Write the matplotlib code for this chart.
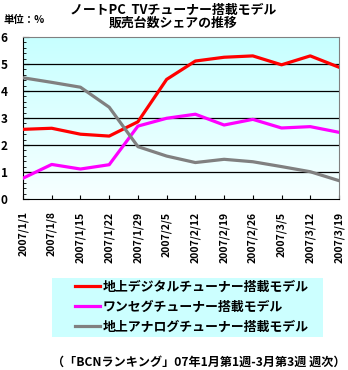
import numpy as np
import matplotlib
matplotlib.use("Agg")
import matplotlib.pyplot as plt
from matplotlib.ticker import MultipleLocator
from matplotlib.patches import Rectangle

plt.rcParams["font.family"] = ["Noto Sans CJK JP", "DejaVu Sans"]
plt.rcParams["font.weight"] = "bold"

# Dati
dates = ["2007/1/1", "2007/1/8", "2007/1/15", "2007/1/22", "2007/1/29", "2007/2/5",
         "2007/2/12", "2007/2/19", "2007/2/26", "2007/3/5", "2007/3/12", "2007/3/19"]
digital = [2.58, 2.62, 2.40, 2.33, 2.86, 4.43, 5.11, 5.25, 5.30, 4.97, 5.30, 4.88]
oneseg = [0.77, 1.28, 1.11, 1.27, 2.70, 2.99, 3.14, 2.74, 2.95, 2.63, 2.68, 2.47]
analog = [4.49, 4.32, 4.14, 3.40, 1.94, 1.59, 1.35, 1.47, 1.38, 1.20, 1.01, 0.68]
labels = ["地上デジタルチューナー搭載モデル", "ワンセグチューナー搭載モデル", "地上アナログチューナー搭載モデル"]
colors = ["#ff0000", "#ff00ff", "#808080"]

W, H = 348, 370
fig = plt.figure(figsize=(W / 100, H / 100), dpi=100)
ax = fig.add_axes([23 / W, (H - 199) / H, 316 / W, 162 / H])

# Sfondo sfumato
grad = np.linspace(0, 1, 256).reshape(-1, 1, 1)
top = np.array([0.78, 1.0, 1.0])
bot = np.array([0.97, 1.0, 1.0])
img = top * (1 - grad) + bot * grad
ax.imshow(img, extent=[0, len(dates) - 1, 0, 6], aspect="auto", zorder=0, origin="upper")

x = np.arange(len(dates))
for ys, c, lab in zip([digital, oneseg, analog], colors, labels):
    ax.plot(x, ys, color=c, lw=2.3, label=lab, zorder=3)

for yv in range(1, 6):
    ax.axhline(yv, color="black", lw=0.9, zorder=1)

ax.set_xlim(0, len(dates) - 1)
ax.set_ylim(0, 6)
ax.set_xticks(x)
ax.set_xticklabels(dates, rotation=90, fontsize=7.5, va="top", ha="center")
ax.yaxis.set_major_locator(MultipleLocator(1))
ax.yaxis.set_minor_locator(MultipleLocator(0.2))
ax.tick_params(axis="y", which="major", direction="in", length=4, labelsize=8.5, pad=11)
ax.tick_params(axis="y", which="minor", direction="in", length=2)
ax.tick_params(axis="x", direction="in", length=3, pad=9)
for s in ax.spines.values():
    s.set_color("#808080")
ax.spines["bottom"].set_color("black")
ax.spines["left"].set_color("black")

fig.text(173 / W, 1 - 10 / H, "ノートPC  TVチューナー搭載モデル", ha="center", va="center", fontsize=9.3)
fig.text(173 / W, 1 - 23 / H, "販売台数シェアの推移", ha="center", va="center", fontsize=9.3)
fig.text(3 / W, 1 - 20 / H, "単位：%", ha="left", va="center", fontsize=7.5)

# Riquadro legenda
fig.patches.append(Rectangle((52 / W, 1 - 337 / H), 271 / W, 59 / H,
                             transform=fig.transFigure, facecolor="#ccffff",
                             edgecolor="none", zorder=0))
leg = fig.legend(loc="upper left", bbox_to_anchor=(75 / W, 1 - 280 / H), frameon=False,
                 prop={"size": 9.3, "weight": "bold"}, handlelength=1.9, borderpad=0,
                 labelspacing=0.45, handletextpad=0.25, borderaxespad=0)

fig.text(346 / W, 1 - 362 / H, "（「BCNランキング」07年1月第1週-3月第3週 週次）",
         ha="right", va="center", fontsize=8.7)

fig.savefig("out.png", dpi=100)
